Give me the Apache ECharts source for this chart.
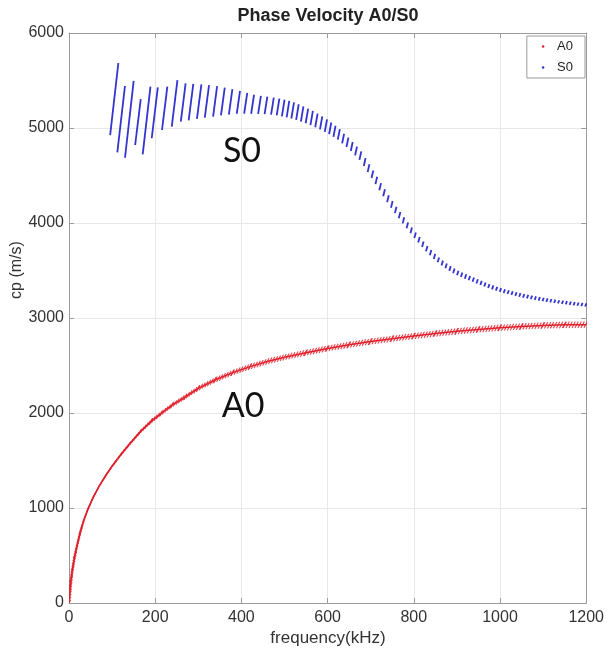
<!DOCTYPE html>
<html>
<head>
<meta charset="utf-8">
<script src="https://cdn.jsdelivr.net/npm/echarts/dist/echarts.min.js"></script>
<style>
  html, body { margin: 0; padding: 0; background: #ffffff; }
  #chart { width: 607px; height: 659px; }
</style>
</head>
<body>
<div id="chart"></div>
<script>
// Axis ticks (kHz and m/s)
const freqTicks = [0, 200, 400, 600, 800, 1000, 1200];
const cpTicks = [0, 1000, 2000, 3000, 4000, 5000, 6000];

// A0 mode: phase velocity (m/s) against frequency (kHz)
const a0Freq = [0, 2, 5, 9, 14, 20, 27, 35, 45, 57, 70, 85, 100, 120, 140, 165, 190, 215, 240, 270,
  300, 340, 380, 420, 460, 500, 550, 600, 650, 700, 750, 800, 850, 900, 950, 1000, 1050, 1100, 1150, 1200];
const a0Cp = [0, 120, 260, 380, 510, 630, 760, 880, 1000, 1120, 1230, 1340, 1440, 1560, 1670, 1800, 1910, 2000, 2085, 2170,
  2260, 2350, 2425, 2488, 2542, 2587, 2635, 2680, 2718, 2752, 2782, 2810, 2836, 2860, 2880, 2897, 2911, 2922, 2928, 2930];

// S0 mode: each solution branch spans a short cp range (low -> high) around a frequency (kHz)
const s0Freq = [105, 121, 140, 160, 180, 199, 222, 245, 265,
  283, 302, 320, 339, 357, 375, 393, 410, 426, 442, 457, 472, 485, 497, 508, 519, 530, 541, 552, 563, 574, 585, 596,
  606, 616, 626, 636, 646, 656, 666, 676, 686, 695, 704, 713, 722, 731, 740, 749, 758, 767, 776, 785, 794, 803, 812,
  821, 830, 839, 848, 857, 866, 875, 884, 893, 902, 911, 920, 929, 938, 947, 956, 965, 974, 983, 992, 1001, 1010,
  1019, 1028, 1037, 1046, 1055, 1064, 1073, 1082, 1091, 1100, 1109, 1118, 1127, 1136, 1145, 1154, 1163, 1172, 1181, 1190, 1199];
const s0Low = [4926, 4744, 4687, 4821, 4723, 4892, 4979, 5014, 5066,
  5080, 5095, 5108, 5120, 5132, 5142, 5150, 5152, 5150, 5148, 5145, 5140, 5132, 5122, 5112, 5100, 5085, 5068, 5050, 5030, 5008, 4985, 4960,
  4935, 4907, 4877, 4838, 4800, 4758, 4712, 4664, 4600, 4537, 4473, 4409, 4344, 4281, 4220, 4161, 4104, 4049, 3996, 3944, 3893, 3843, 3794,
  3748, 3703, 3661, 3621, 3586, 3552, 3523, 3496, 3472, 3450, 3432, 3414, 3397, 3382, 3363, 3347, 3332, 3315, 3301, 3288, 3275, 3263,
  3252, 3243, 3233, 3224, 3215, 3206, 3199, 3191, 3183, 3176, 3170, 3164, 3159, 3153, 3148, 3143, 3138, 3133, 3129, 3125, 3121];
const s0High = [5684, 5442, 5495, 5305, 5435, 5428, 5435, 5505, 5470,
  5465, 5460, 5452, 5440, 5425, 5408, 5390, 5370, 5350, 5338, 5330, 5320, 5310, 5298, 5285, 5270, 5250, 5228, 5205, 5180, 5152, 5122, 5090,
  5058, 5024, 4988, 4940, 4898, 4852, 4804, 4754, 4684, 4619, 4553, 4487, 4420, 4355, 4292, 4231, 4172, 4115, 4060, 4006, 3953, 3901, 3852,
  3804, 3759, 3715, 3675, 3638, 3604, 3573, 3546, 3520, 3498, 3478, 3460, 3443, 3426, 3407, 3391, 3374, 3357, 3343, 3328, 3315, 3303,
  3292, 3281, 3271, 3262, 3253, 3244, 3235, 3227, 3219, 3212, 3206, 3200, 3193, 3187, 3182, 3177, 3172, 3167, 3163, 3159, 3155];

const A0_COLOR = '#e0202c';
const S0_COLOR = '#3434d0';
const FONT = '"Liberation Sans", Arial, Helvetica, sans-serif';

const chart = echarts.init(document.getElementById('chart'), null, { renderer: 'canvas' });

const xMin = freqTicks[0], xMax = freqTicks[freqTicks.length - 1], xStep = freqTicks[1] - freqTicks[0];
const yMin = cpTicks[0], yMax = cpTicks[cpTicks.length - 1], yStep = cpTicks[1] - cpTicks[0];

const axisLineStyle = { color: '#9a9a9a', width: 1 };
const plainNumber = v => String(v);

function mainX() {
  return {
    type: 'value', min: xMin, max: xMax, interval: xStep,
    axisLine: { show: true, onZero: false, lineStyle: axisLineStyle },
    axisTick: { show: true, inside: true, length: 5, lineStyle: axisLineStyle },
    axisLabel: { color: '#333', fontSize: 16, fontFamily: FONT, margin: 7, formatter: plainNumber },
    splitLine: { show: true, lineStyle: { color: '#e8e8e8', width: 1 } }
  };
}
function mainY() {
  return {
    type: 'value', min: yMin, max: yMax, interval: yStep,
    axisLine: { show: true, onZero: false, lineStyle: axisLineStyle },
    axisTick: { show: true, inside: true, length: 5, lineStyle: axisLineStyle },
    axisLabel: { color: '#333', fontSize: 16, fontFamily: FONT, margin: 5, formatter: plainNumber },
    splitLine: { show: true, lineStyle: { color: '#e8e8e8', width: 1 } }
  };
}
function boxAxis(base, pos) {
  return Object.assign({}, base, {
    position: pos,
    axisLabel: { show: false },
    splitLine: { show: false }
  });
}

// A0: drawn segment by segment, with fine slanted hatching along the curve
function renderA0(params, api) {
  const i = params.dataIndex;
  if (i >= a0Freq.length - 1) return null;
  const p = api.coord([a0Freq[i], a0Cp[i]]);
  const q = api.coord([a0Freq[i + 1], a0Cp[i + 1]]);
  const children = [{
    type: 'line',
    shape: { x1: p[0], y1: p[1], x2: q[0], y2: q[1] },
    style: { stroke: A0_COLOR, lineWidth: 1.5 }
  }];
  const len = Math.hypot(q[0] - p[0], q[1] - p[1]);
  const gap = 3.0, hx = 1.7, hy = 3.2;
  for (let d = 0; d < len; d += gap) {
    const t = d / len;
    const x = p[0] + (q[0] - p[0]) * t;
    const y = p[1] + (q[1] - p[1]) * t;
    children.push({
      type: 'line',
      shape: { x1: x - hx, y1: y + hy, x2: x + hx, y2: y - hy },
      style: { stroke: A0_COLOR, lineWidth: 1.1, opacity: 0.85 }
    });
  }
  return { type: 'group', children };
}

// S0: one slanted stroke per branch, from its low to its high phase velocity
function renderS0(params, api) {
  const lo = api.coord([api.value(0), api.value(1)]);
  const hi = api.coord([api.value(0), api.value(2)]);
  const h = lo[1] - hi[1];
  const dx = h * 0.05 + 0.5;
  return {
    type: 'line',
    shape: { x1: lo[0] - dx, y1: lo[1], x2: hi[0] + dx, y2: hi[1] },
    style: { stroke: S0_COLOR, lineWidth: 1.8 }
  };
}

const option = {
  backgroundColor: '#ffffff',
  animation: false,
  grid: { left: 69, right: 20, top: 33, bottom: 56, containLabel: false },
  xAxis: [mainX(), boxAxis(mainX(), 'top')],
  yAxis: [mainY(), boxAxis(mainY(), 'right')],
  legend: {
    orient: 'vertical', right: 22, top: 36,
    data: ['A0', 'S0'],
    icon: 'circle', itemWidth: 18, itemHeight: 2.5, itemGap: 8,
    backgroundColor: '#ffffff',
    borderColor: '#9a9a9a', borderWidth: 1, borderRadius: 0,
    padding: [4, 12, 4, 15],
    textStyle: { fontSize: 13, fontFamily: FONT, color: '#222' }
  },
  series: [
    {
      type: 'custom', name: 'A0', xAxisIndex: 0, yAxisIndex: 0,
      itemStyle: { color: A0_COLOR },
      data: a0Freq.map((f, i) => [f, a0Cp[i]]),
      encode: { x: 0, y: 1 },
      renderItem: renderA0,
      clip: true, z: 3
    },
    {
      type: 'custom', name: 'S0', xAxisIndex: 0, yAxisIndex: 0,
      itemStyle: { color: S0_COLOR },
      data: s0Freq.map((f, i) => [f, s0Low[i], s0High[i]]),
      encode: { x: 0, y: [1, 2] },
      renderItem: renderS0,
      clip: true, z: 3
    }
  ],
  graphic: [
    { type: 'text', x: 328, y: 16, z: 10,
      style: { text: 'Phase Velocity A0/S0', fill: '#222', font: 'bold 18px ' + FONT, textAlign: 'center', textVerticalAlign: 'middle' } },
    { type: 'text', x: 328, y: 638, z: 10,
      style: { text: 'frequency(kHz)', fill: '#333', font: '17px ' + FONT, textAlign: 'center', textVerticalAlign: 'middle' } },
    { type: 'text', x: 17, y: 270, rotation: Math.PI / 2, z: 10,
      style: { text: 'cp (m/s)', fill: '#333', font: '16px ' + FONT, textAlign: 'center', textVerticalAlign: 'middle' } },
    { type: 'text', x: 242, y: 151, z: 10,
      style: { text: 'S0', fill: '#111', font: '34px Lato, "Open Sans", sans-serif', textAlign: 'center', textVerticalAlign: 'middle' } },
    { type: 'text', x: 243, y: 406, z: 10,
      style: { text: 'A0', fill: '#111', font: '34px Lato, "Open Sans", sans-serif', textAlign: 'center', textVerticalAlign: 'middle' } }
  ]
};

chart.setOption(option);
</script>
</body>
</html>
